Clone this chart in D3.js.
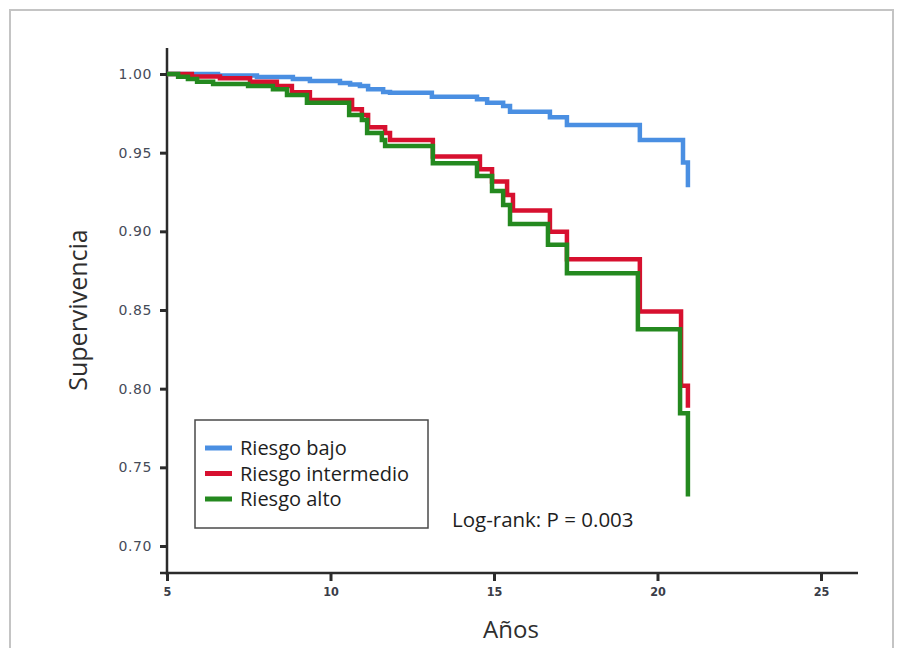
<!DOCTYPE html>
<html>
<head>
<meta charset="utf-8">
<script src="https://cdn.jsdelivr.net/npm/d3@7"></script>
<style>
  body { margin: 0; background: #fff; }
  svg { display: block; }
</style>
</head>
<body>
<svg id="chart" width="898" height="648"></svg>
<script>
// survival step data (time in years, survival)
var lowTimes = [5.0, 6.56, 7.75, 8.85, 9.37, 10.29, 10.60, 10.90, 11.15, 11.61, 11.82, 13.10, 14.48, 14.79, 15.28, 15.49, 16.71, 17.23, 19.46, 20.78, 20.93];
var lowSurv  = [1.000, 0.9990, 0.9981, 0.9968, 0.9956, 0.9943, 0.9933, 0.9924, 0.9903, 0.9886, 0.9881, 0.9856, 0.9839, 0.9818, 0.9797, 0.9760, 0.9725, 0.9676, 0.9581, 0.9437, 0.9280];

var midTimes = [5.0, 5.76, 6.62, 7.54, 8.36, 8.82, 9.37, 10.66, 10.96, 11.15, 11.67, 11.82, 13.13, 14.57, 14.94, 15.40, 15.58, 16.71, 17.23, 19.46, 20.72, 20.93];
var midSurv  = [1.000, 0.9984, 0.9973, 0.9951, 0.9924, 0.9884, 0.9835, 0.9776, 0.9740, 0.9661, 0.9625, 0.9581, 0.9475, 0.9395, 0.9316, 0.9231, 0.9132, 0.8998, 0.8823, 0.8490, 0.8018, 0.7878];

var highTimes = [5.0, 5.34, 5.64, 5.92, 6.41, 7.48, 8.24, 8.67, 9.28, 10.57, 10.96, 11.12, 11.57, 11.67, 13.13, 14.48, 14.94, 15.28, 15.49, 16.65, 17.23, 19.40, 20.69, 20.93];
var highSurv  = [1.000, 0.9983, 0.9968, 0.9951, 0.9936, 0.9924, 0.9903, 0.9867, 0.9818, 0.9740, 0.9708, 0.9625, 0.9581, 0.9543, 0.9433, 0.9352, 0.9257, 0.9168, 0.9047, 0.8914, 0.8734, 0.8378, 0.7844, 0.7314];

var groupNames = ['Riesgo bajo', 'Riesgo intermedio', 'Riesgo alto'];
var groupColors = ['#4a8fe2', '#d7102f', '#24891f'];
var xTicks = [5, 10, 15, 20, 25];
var yTicks = [0.70, 0.75, 0.80, 0.85, 0.90, 0.95, 1.00];
var pText = 'Log-rank: P = 0.003';

var svg = d3.select('#chart');

// outer frame
svg.append('path')
    .attr('d', 'M10,650 L10,10 L893,10 L893,650')
    .attr('fill', 'none')
    .attr('stroke', '#c4c4c4')
    .attr('stroke-width', 2);

var x = d3.scaleLinear().domain([5, 25]).range([167, 821]);
var y = d3.scaleLinear().domain([0.70, 1.00]).range([546, 74]);

var axisColor = '#2b2b2b';

// y axis
var yAxis = svg.append('g')
    .attr('transform', 'translate(167,0)')
    .call(d3.axisLeft(y).tickValues(yTicks).tickFormat(d3.format('.2f')).tickSize(7).tickPadding(8));
yAxis.select('.domain').remove();
yAxis.selectAll('.tick line').attr('stroke', axisColor).attr('stroke-width', 3);
yAxis.selectAll('.tick text')
    .attr('fill', '#464b58')
    .style('font-family', '"DejaVu Sans", sans-serif')
    .style('font-size', '14px')
    .style('letter-spacing', '0.6px');
svg.append('line')
    .attr('x1', 167).attr('x2', 167)
    .attr('y1', 48).attr('y2', 575)
    .attr('stroke', axisColor).attr('stroke-width', 2.5);

// x axis
var xAxis = svg.append('g')
    .attr('transform', 'translate(0,573)')
    .call(d3.axisBottom(x).tickValues(xTicks).tickSize(8).tickPadding(6));
xAxis.select('.domain').remove();
xAxis.selectAll('.tick line').attr('stroke', axisColor).attr('stroke-width', 3);
xAxis.selectAll('.tick text')
    .attr('fill', '#3a3d48')
    .style('font-family', '"DejaVu Sans Condensed", "DejaVu Sans", sans-serif')
    .style('font-weight', 'bold')
    .style('font-size', '12.5px');
svg.append('line')
    .attr('x1', 160).attr('x2', 858)
    .attr('y1', 573).attr('y2', 573)
    .attr('stroke', axisColor).attr('stroke-width', 2.5);

// axis titles
svg.append('text')
    .attr('x', 511).attr('y', 638)
    .attr('text-anchor', 'middle')
    .attr('fill', '#2e2e2e')
    .style('font-family', '"Open Sans", sans-serif')
    .style('font-size', '24px')
    .text('Años');

svg.append('text')
    .attr('transform', 'translate(87,310) rotate(-90)')
    .attr('text-anchor', 'middle')
    .attr('fill', '#2e2e2e')
    .style('font-family', '"Open Sans", sans-serif')
    .style('font-size', '25px')
    .text('Supervivencia');

// curves
var line = d3.line()
    .x(function(d) { return x(d[0]); })
    .y(function(d) { return y(d[1]); })
    .curve(d3.curveStepAfter);

var series = [
    d3.zip(lowTimes, lowSurv),
    d3.zip(midTimes, midSurv),
    d3.zip(highTimes, highSurv)
];

svg.append('g').selectAll('path')
    .data(series)
    .enter().append('path')
    .attr('d', line)
    .attr('fill', 'none')
    .attr('stroke', function(d, i) { return groupColors[i]; })
    .attr('stroke-width', 4.5)
    .attr('stroke-linejoin', 'miter');

// legend
var legend = svg.append('g');
legend.append('rect')
    .attr('x', 195).attr('y', 420)
    .attr('width', 233).attr('height', 108)
    .attr('fill', '#fff')
    .attr('stroke', '#4a4a4a')
    .attr('stroke-width', 1.5);

var items = legend.selectAll('g.item')
    .data(groupNames)
    .enter().append('g')
    .attr('class', 'item')
    .attr('transform', function(d, i) { return 'translate(0,' + (448 + i * 25.5) + ')'; });

items.append('line')
    .attr('x1', 205).attr('x2', 232)
    .attr('stroke', function(d, i) { return groupColors[i]; })
    .attr('stroke-width', 5);

items.append('text')
    .attr('x', 240)
    .attr('dy', '0.35em')
    .attr('fill', '#1e1e1e')
    .style('font-family', '"Open Sans", sans-serif')
    .style('font-size', '20px')
    .text(function(d) { return d; });

svg.append('text')
    .attr('x', 452).attr('y', 527)
    .attr('fill', '#1e1e1e')
    .style('font-family', '"Open Sans", sans-serif')
    .style('font-size', '20.5px')
    .text(pText);
</script>
</body>
</html>
